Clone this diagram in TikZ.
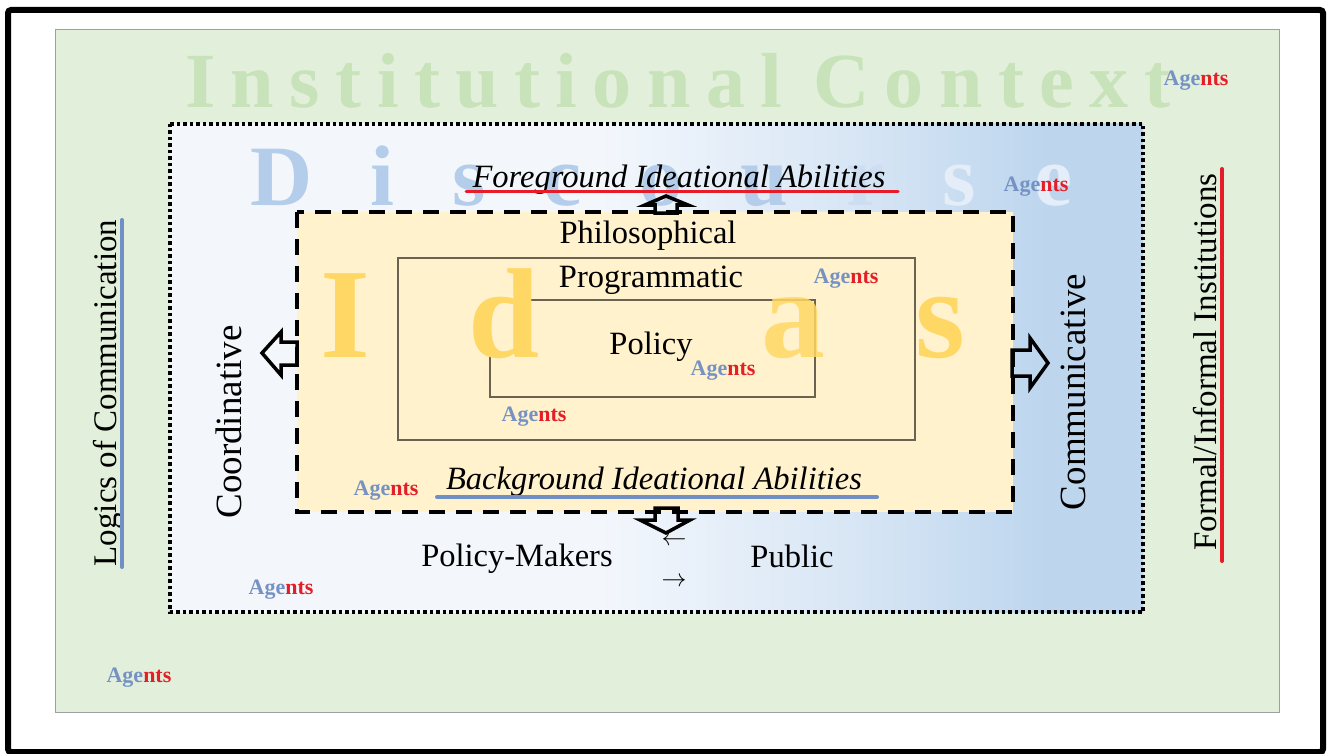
\documentclass[tikz,border=0pt]{standalone}
\usepackage{fontspec}
\setmainfont{Liberation Serif}
\definecolor{instBg}{RGB}{226,239,218}
\definecolor{instC}{RGB}{200,226,185}
\definecolor{discL}{RGB}{243,247,252}
\definecolor{discM}{RGB}{216,230,245}
\definecolor{discR}{RGB}{189,214,238}
\definecolor{discC}{RGB}{180,205,235}
\definecolor{discC2}{RGB}{205,222,242}
\definecolor{discC3}{RGB}{228,237,248}
\definecolor{ideaBg}{RGB}{255,242,204}
\definecolor{ideaC}{RGB}{255,215,100}
\definecolor{boxC}{RGB}{105,100,82}
\definecolor{ageC}{RGB}{118,146,196}
\definecolor{ntsC}{RGB}{228,30,38}
\definecolor{lineBlue}{RGB}{112,143,196}
\definecolor{lineRed}{RGB}{230,28,40}
\pgfdeclarehorizontalshading{discshade}{100bp}{color(0bp)=(discL); color(47bp)=(discL); color(60bp)=(discM); color(70bp)=(discR); color(100bp)=(discR)}
\newcommand{\agentsword}{\textcolor{ageC}{Age}\textcolor{ntsC}{nts}}
\tikzset{
  lbl/.style={inner sep=0pt, font=\fontsize{32.5}{32.5}\selectfont},
  ital/.style={inner sep=0pt, font=\fontsize{32.5}{32.5}\selectfont\itshape},
  rottext/.style={inner sep=0pt, rotate=90, font=\fontsize{33}{33}\selectfont},
  sidetext/.style={inner sep=0pt, rotate=90, font=\fontsize{37}{37}\selectfont},
  agent/.style={inner sep=0pt, font=\fontsize{22}{22}\selectfont\bfseries},
  bigidea/.style={inner sep=0pt, anchor=base, text=ideaC, font=\fontsize{128}{128}\selectfont\bfseries},
  blockarrow/.style={draw=black, line width=3.5pt, line join=miter},
  innerbox/.style={draw=boxC, line width=1.5pt},
}
\begin{document}
\begin{tikzpicture}[x=1pt,y=-1pt]
\useasboundingbox (0,0) rectangle (1327,754);
\fill[white] (0,0) rectangle (1327,754);
% outer frame
\draw[line width=6pt, rounded corners=3pt] (8,10) rectangle (1323,752);
% institutional context
\draw[fill=instBg, draw=gray!75, line width=1pt] (55,30) rectangle (1279,712);
\node[anchor=base west, inner sep=0pt, text=instC, font=\fontsize{78}{78}\selectfont\bfseries] (inst) at (185,108)
  {\hbox to 985pt{I\hfill n\hfill s\hfill t\hfill i\hfill t\hfill u\hfill t\hfill i\hfill o\hfill n\hfill a\hfill l\hfill\hfill C\hfill o\hfill n\hfill t\hfill e\hfill x\hfill t}};
% discourse
\path[shading=discshade] (170,124) rectangle (1143,612);
\draw[line width=3.5pt, dash pattern=on 3.5pt off 3pt] (170,124) rectangle (1143,612);
\node[anchor=base west, inner sep=0pt, font=\fontsize{86}{86}\selectfont\bfseries] (disc) at (250,206)
  {\hbox to 822pt{\textcolor{discC}{D}\hfill\textcolor{discC}{i}\hfill\textcolor{discC}{s}\hfill\textcolor{discC}{c}\hfill\textcolor{discC}{o}\hfill\textcolor{discC}{u}\hfill\textcolor{discC2}{r}\hfill\textcolor{discC3}{s}\hfill\textcolor{discC3}{e}}};
% ideas box
\draw[fill=ideaBg, line width=4pt, dash pattern=on 16pt off 11pt] (297,212) rectangle (1013,512);
\node[bigidea] (idI) at (345,357) {I};
\node[bigidea] (idE) at (650,378) {e};
\node[bigidea] (idS) at (940,357) {s};
\draw[innerbox] (398,258) rectangle (915,440);
\draw[innerbox, fill=ideaBg] (490,300) rectangle (815,397);
\node[bigidea] (idD) at (504,357) {d};
\node[bigidea, opacity=0.85] (idA) at (793,357) {a};
% texts in ideas
\node[lbl, anchor=base] (phil) at (648,243) {Philosophical};
\node[lbl, anchor=base] (prog) at (651,287) {Programmatic};
\node[lbl, anchor=base] (pol) at (651,354) {Policy};
\node[ital, anchor=base] (fore) at (679,188) {Foreground Ideational Abilities};
\draw[lineRed, line width=3pt, line cap=round] (466,192) -- (898,192);
\node[ital, anchor=base] (back) at (654,489) {Background Ideational Abilities};
\draw[lineBlue, line width=4pt, line cap=round] (437,497) -- (877,497);
% block arrows
\draw[blockarrow] (655,213) -- (655,205) -- (645,205) -- (666,196) -- (688,205) -- (677,205) -- (677,213) -- cycle;
\draw[blockarrow] (297,342) -- (281,342) -- (281,332) -- (262,353) -- (281,375) -- (281,365) -- (297,365) -- cycle;
\draw[blockarrow] (1012,350) -- (1030,350) -- (1030,338) -- (1048,363) -- (1030,388) -- (1030,376) -- (1012,376) -- cycle;
\draw[blockarrow] (655,508) -- (678,508) -- (678,520) -- (690,520) -- (666,533) -- (640,520) -- (655,520) -- cycle;
% discourse texts
\node[sidetext, anchor=base] (coord) at (241,422) {Coordinative};
\node[sidetext, anchor=base] (comm) at (1085,392) {Communicative};
\node[lbl, anchor=base] (pm) at (517,566) {Policy-Makers};
\node[lbl, anchor=base] (pub) at (792,567) {Public};
\node[inner sep=0pt, font=\fontsize{30}{30}\selectfont] (la) at (674,541) {$\leftarrow$};
\node[inner sep=0pt, font=\fontsize{30}{30}\selectfont] (ra) at (674,582) {$\rightarrow$};
% outer side texts
\node[rottext, anchor=base] (logic) at (116,393) {Logics of Communication};
\draw[lineBlue, line width=4pt, line cap=round] (122,220) -- (122,567);
\node[rottext, anchor=base] (formal) at (1216,362) {Formal/Informal Institutions};
\draw[lineRed, line width=4pt, line cap=round] (1222,169) -- (1222,561);
% agents
\node[agent] (ag1) at (1196,81) {\agentsword};
\node[agent] (ag2) at (1036,187) {\agentsword};
\node[agent] (ag3) at (846,279) {\agentsword};
\node[agent] (ag4) at (723,371) {\agentsword};
\node[agent] (ag5) at (534,417) {\agentsword};
\node[agent] (ag6) at (386,491) {\agentsword};
\node[agent] (ag7) at (281,590) {\agentsword};
\node[agent] (ag8) at (139,678) {\agentsword};
\end{tikzpicture}
\end{document}
